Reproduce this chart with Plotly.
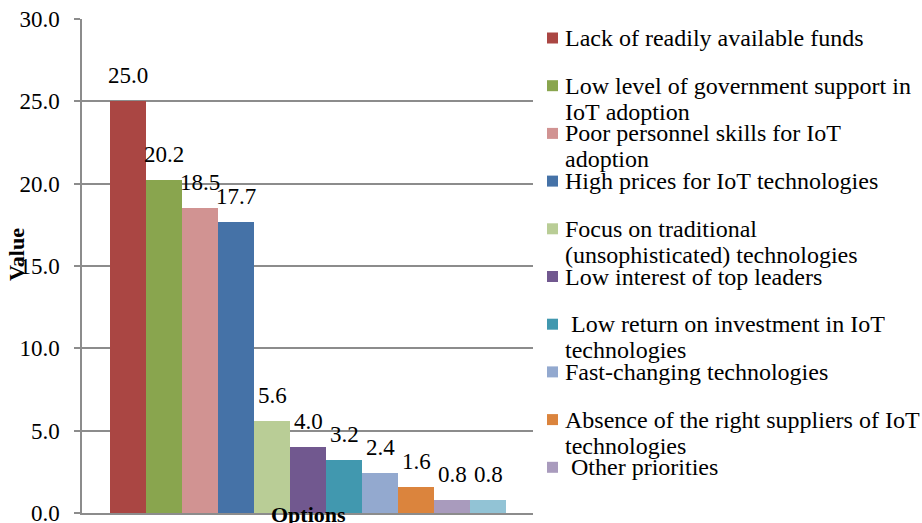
import plotly.graph_objects as go

# Survey options and their shares (%)
options = [
    "Lack of readily available funds",
    "Low level of government support in<br>IoT adoption",
    "Poor personnel skills for IoT<br>adoption",
    "High prices for IoT technologies",
    "Focus on traditional<br>(unsophisticated) technologies",
    "Low interest of top leaders",
    " Low return on investment in IoT<br>technologies",
    "Fast-changing technologies",
    "Absence of the right suppliers of IoT<br>technologies",
    " Other priorities",
    "Not specified",
]
values = [25.0, 20.2, 18.5, 17.7, 5.6, 4.0, 3.2, 2.4, 1.6, 0.8, 0.8]
in_legend = [True] * 10 + [False]
colors = ["#AA4643", "#89A54E", "#D19392", "#4572A7", "#B9CD96", "#71588F",
          "#4198AF", "#93A9CF", "#DB843D", "#A99BBD", "#92C3D5"]
y_ticks = [0, 5, 10, 15, 20, 25, 30]

FONT = "Times New Roman, Liberation Serif, DejaVu Serif, serif"
W, H = 922, 523
L, R, T, B = 82, 389, 19, 10
PH = H - T - B

fig = go.Figure()
for name, v, c in zip(options, values, colors):
    fig.add_trace(go.Bar(x=[name], y=[v], marker=dict(color=c, line=dict(width=0)),
                         showlegend=False, hoverinfo="x+y"))
    fig.add_annotation(x=name, y=v, xref="x", yref="y", text=f"{v:.1f}",
                       showarrow=False, yanchor="bottom", yshift=11,
                       font=dict(family=FONT, size=23, color="#000"))

# Hand-drawn legend on the right
def py(p):
    return (H - B - p) / PH

row0, row_step, line_step = 38, 47.7, 26
for i, (name, c, show) in enumerate(zip(options, colors, in_legend)):
    if not show:
        continue
    cy = row0 + row_step * i
    fig.add_shape(type="rect", xref="paper", yref="paper",
                  x0=(547 - L) / (W - L - R), x1=(558 - L) / (W - L - R),
                  y0=py(cy + 5.5), y1=py(cy - 5.5),
                  fillcolor=c, line=dict(width=0))
    for j, line in enumerate(name.split("<br>")):
        fig.add_annotation(x=(563 - L) / (W - L - R), y=py(cy + line_step * j),
                           xref="paper", yref="paper", xanchor="left", yanchor="middle",
                           text=line.replace(" ", "\u00a0"), showarrow=False,
                           font=dict(family=FONT, size=24, color="#000"))

# Axis titles
fig.add_annotation(x=(17 - L) / (W - L - R), y=py(255), xref="paper", yref="paper",
                   xanchor="center", yanchor="middle",
                   text="<b>Value</b>", textangle=-90, showarrow=False,
                   font=dict(family=FONT, size=22, color="#000"))
fig.add_annotation(x=(308 - L) / (W - L - R), y=py(500), xref="paper", yref="paper",
                   xanchor="center", yanchor="top",
                   text="<b>Options</b>", showarrow=False,
                   font=dict(family=FONT, size=22, color="#000"))

fig.update_layout(
    width=W, height=H,
    margin=dict(l=L, r=R, t=T, b=B),
    paper_bgcolor="white", plot_bgcolor="white",
    barmode="overlay", bargap=0,
    font=dict(family=FONT, color="#000"),
    xaxis=dict(type="category", range=[-1.278, 11.25], showticklabels=False,
               showgrid=False, zeroline=False, showline=True, linecolor="#8c8c8c",
               linewidth=1.5, ticks="", automargin=False),
    yaxis=dict(range=[0, 30], tickvals=y_ticks, ticktext=[f"{t:.1f}" for t in y_ticks],
               showgrid=True, gridcolor="#8c8c8c", gridwidth=1.5, zeroline=False,
               showline=True, linecolor="#8c8c8c", linewidth=1.5,
               ticks="outside", ticklen=6, tickcolor="#8c8c8c", tickwidth=1.5,
               ticklabelstandoff=10, ticklabeloverflow="allow", automargin=False,
               tickfont=dict(family=FONT, size=23, color="#000")),
)

fig.write_html("out.html")
